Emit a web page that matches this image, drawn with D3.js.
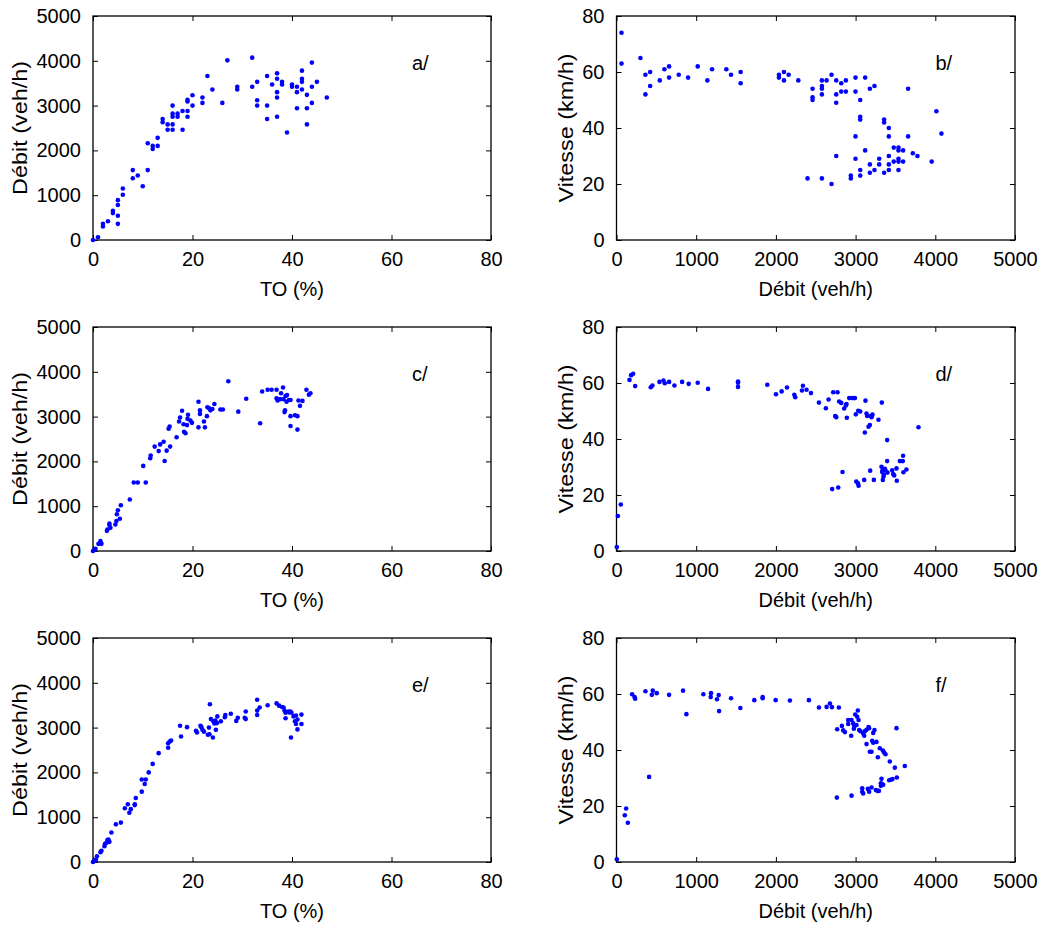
<!DOCTYPE html>
<html>
<head>
<meta charset="utf-8">
<script src="https://cdn.jsdelivr.net/npm/d3@7/dist/d3.min.js"></script>
<style>
  html, body { margin: 0; padding: 0; background: #ffffff; }
  svg { display: block; }
  text { font-family: "Liberation Sans", Arial, Helvetica, sans-serif; fill: #000; }
</style>
</head>
<body>
<svg id="chart" width="1041" height="927"></svg>
<script>
// ---------- Data ----------
const toTicks = [0, 20, 40, 60, 80];
const debitTicks = [0, 1000, 2000, 3000, 4000, 5000];
const vitesseTicks = [0, 20, 40, 60, 80];

const panelLabels = ["a/", "b/", "c/", "d/", "e/", "f/"];
const xTitleTO = "TO (%)";
const xTitleDebit = "Débit (veh/h)";
const yTitleDebit = "Débit (veh/h)";
const yTitleVitesse = "Vitesse (km/h)";

// a/ : TO (%) vs Débit (veh/h)
const aTO = [0,1,2,2,3,4,4,5,5,5,5,6,6,8,8,9,10,11,11,12,12,13,13,14,14,15,15,16,16,16,16,16,17,17,18,18,19,19,19,19,20,20,22,22,23,24,26,27,29,29,32,32,33,33,33,35,35,35,36,37,37,37,37,37,38,38,39,40,40,41,41,41,42,42,42,42,43,43,43,44,44,44,45,47];
const aQ = [0,60,360,300,420,650,600,890,780,540,360,1150,1010,1560,1380,1440,1200,1560,2160,2100,2030,2280,2100,2700,2630,2580,2460,3000,2820,2750,2580,2460,2820,2750,2880,2460,3130,3090,2880,2750,3230,3000,3180,3060,3660,3360,3060,4010,3420,3360,4070,3420,3530,3120,3000,3660,3000,2700,3470,3720,3600,3300,3180,2750,3530,3470,2400,3470,3420,3420,3300,2940,3780,3600,3530,3360,3240,2940,2580,3960,3420,3060,3530,3180];

// b/ : Débit (veh/h) vs Vitesse (km/h)
const bQ = [63,63,300,363,363,422,422,543,601,660,660,781,898,1019,1140,1199,1378,1437,1558,1558,2038,2038,2101,2101,2160,2281,2460,2460,2460,2577,2577,2577,2577,2636,2698,2757,2757,2757,2820,2820,2878,2878,2999,2999,3058,3120,3179,3237,3659,3058,3058,2999,3358,3358,3417,3417,3659,4014,4077,2757,2999,3120,3179,3179,3058,3058,2940,2940,2698,2577,2397,3237,3296,3296,3358,3417,3417,3417,3479,3479,3538,3538,3538,3538,3538,3596,3596,3718,3776,3955];
const bV = [74,63,65,59,52,60,55,57,61,62,58,59,58,62,57,61,61,59,60,56,59,58,60,57,59,57,54,51,50,57,55,54,52,57,59,57,52,49,56,53,57,53,58,53,50,58,54,55,54,44,43,37,43,42,40,37,37,46,38,30,29,32,27,24,25,23,23,22,20,22,22,25,29,27,24,30,27,25,33,28,33,32,29,28,25,32,28,31,30,28];

// c/ : TO (%) vs Débit (veh/h)
const cTO = [0,0.3,0.5,1.1,1.5,1.7,2.8,2.9,3.3,3.3,3.5,4.5,4.7,4.8,5.0,5.4,5.6,7.4,8.2,9.0,10.1,10.6,11.5,11.6,12.4,13.2,13.5,14.2,14.4,14.8,15.2,15.4,15.5,16.8,17.3,17.5,17.9,18.2,18.6,18.3,18.9,19.0,19.1,19.6,19.9,21.2,21.2,21.5,21.5,22.3,22.5,22.9,23.0,23.3,23.6,24.0,24.4,25.6,26.1,27.2,29.2,30.8,33.6,34.0,35.1,35.9,36.9,36.9,37.1,37.6,37.8,38.2,38.3,38.6,38.5,38.7,38.9,39.0,39.4,39.7,39.7,39.7,40.6,41.1,41.1,41.3,41.6,42.1,42.9,43.4,43.7];
const cQ = [0,30,50,160,220,160,450,480,580,610,520,590,670,820,910,720,1020,1150,1530,1530,1900,1530,2070,2130,2330,2230,2380,2440,2010,2240,2730,2780,2330,2540,2890,2980,3130,2830,2630,2660,2810,2950,3040,2910,2860,3330,2760,3140,3060,2890,2760,3010,3210,3190,3140,3170,3280,3160,3160,3790,3110,3400,2850,3560,3600,3600,3600,3410,3360,3390,3520,3650,3390,3140,3100,3460,3330,3480,3370,3370,3010,2790,3030,3010,2710,3360,3240,3350,3600,3490,3520];

// d/ : Débit (veh/h) vs Vitesse (km/h)
const dQ = [4,17,54,163,184,209,234,430,451,539,589,606,660,727,823,906,1019,1149,1525,1525,1525,1892,2001,2072,2139,2231,2243,2327,2339,2385,2440,2540,2627,2661,2719,2773,2744,2757,2794,2820,2836,2857,2878,2886,2890,2920,2962,2991,3003,3008,3029,3037,3033,3058,3108,3116,3124,3137,3145,3162,3179,3183,3191,3212,3200,3229,3287,3329,3325,3333,3338,3342,3350,3354,3367,3375,3396,3396,3400,3459,3471,3484,3513,3517,3555,3592,3596,3600,3638,3789,2706,2782];
const dV = [1.4,12.5,16.6,61.1,62.8,63.3,58.9,58.5,59.1,60.4,60.9,59.9,60.4,59.1,60.4,59.7,60.1,57.9,60.5,60.1,58.6,59.4,56.0,57.0,58.4,55.8,54.9,57.3,59.0,57.6,56.4,53.0,51.0,54.1,56.7,56.7,48.2,47.8,53.4,52.9,28.2,50.9,52.0,52.5,47.6,54.6,54.6,54.6,48.8,24.8,24.2,23.3,50.1,49.8,25.4,42.3,53.7,49.1,48.2,44.4,45.0,28.7,48.2,48.7,47.8,25.4,46.9,53.0,30.1,28.2,28.8,25.4,26.6,27.2,29.4,28.8,39.6,32.1,28.0,28.8,27.5,27.0,29.5,25.1,32.1,32.1,34.0,28.1,29.1,44.2,22.1,22.7];

// e/ : TO (%) vs Débit (veh/h)
const eTO = [0,0.2,0.4,0.6,0.8,1.5,1.7,2.3,2.4,2.7,2.9,3.3,3.1,3.7,4.6,5.6,6.4,7.0,7.3,7.6,8.4,8.4,8.6,9.8,9.8,10.4,10.6,11.2,12.0,13.2,15.1,15.1,15.4,15.7,17.5,17.7,18.9,20.7,20.9,21.6,21.8,22.0,22.3,23.1,23.3,23.4,23.5,23.7,24.1,24.2,24.4,24.6,24.7,24.9,25.0,25.7,26.5,26.6,27.7,28.8,29.1,30.5,30.7,30.7,33.0,33.0,33.0,33.5,35.1,36.9,37.4,38.0,38.3,38.5,38.7,38.7,39.3,39.4,39.7,39.9,39.8,40.3,40.8,40.6,40.8,41.1,41.1,41.9,41.9];
const eQ = [0,20,40,50,130,220,250,350,400,430,490,450,500,660,840,880,1200,1290,1100,1180,1290,1270,1430,1570,1840,1740,1840,2000,2190,2430,2550,2650,2690,2710,3040,2800,3010,2930,2890,3040,3010,2950,2910,2840,3000,2850,3520,3190,2780,3140,3090,3160,2950,3100,3250,3140,3230,3280,3310,3150,3220,3220,3190,3360,3620,3380,3280,3450,3500,3540,3490,3460,3450,3380,3330,3210,3360,3340,3360,3330,2780,3250,3270,3140,3080,3180,2960,3290,3080];

// f/ : Débit (veh/h) vs Vitesse (km/h)
const fQ = [4,104,121,142,196,226,234,363,443,455,505,409,660,835,877,1090,1186,1182,1261,1282,1287,1437,1554,1729,1834,1834,1997,2176,2414,2540,2636,2678,2703,2790,2765,2769,2828,2845,2866,2907,2907,2945,2949,2949,2970,2978,2982,2995,3012,3020,3028,3037,3045,3062,3083,3083,3095,3095,3108,3116,3137,3162,3170,3137,3154,3170,3179,3200,3200,3208,3221,3221,3237,3262,3254,3275,3292,3279,3304,3317,3317,3325,3333,3346,3342,3358,3375,3429,3421,3442,3463,3492,3513,3517,3617];
const fV = [1.0,16.7,19.1,14.0,59.9,58.9,58.3,61.0,59.7,61.2,60.3,30.4,59.7,61.2,52.8,59.9,60.3,58.9,58.1,59.6,53.9,58.5,55.0,57.8,58.9,58.5,57.8,57.7,57.8,55.2,55.4,56.6,55.3,55.2,23.0,47.4,48.6,47.0,46.4,49.3,50.7,45.1,23.7,50.7,49.5,47.6,48.6,52.7,48.9,51.9,54.1,50.7,47.1,46.7,26.3,25.1,24.5,45.9,45.1,46.7,47.2,48.2,47.8,42.1,26.1,25.1,39.4,39.4,26.6,43.3,42.6,46.1,47.1,42.9,25.7,25.4,25.4,37.4,40.6,28.1,27.2,29.7,27.8,27.6,39.8,39.1,38.5,35.9,29.2,29.4,29.6,33.7,47.8,30.2,34.3];

// ---------- Layout ----------
const svg = d3.select("#chart");
svg.append("rect").attr("width", 1041).attr("height", 927).attr("fill", "#fff");

const colLeft = [93, 616.5];
const plotW = [398, 398.5];
const rowTop = [16, 327, 638];
const plotH = 224;
const FONT = 20;
const TICK = 5;

const panels = [
  {label: panelLabels[0], xs: aTO, ys: aQ, type: "TO"},
  {label: panelLabels[1], xs: bQ, ys: bV, type: "QV"},
  {label: panelLabels[2], xs: cTO, ys: cQ, type: "TO"},
  {label: panelLabels[3], xs: dQ, ys: dV, type: "QV"},
  {label: panelLabels[4], xs: eTO, ys: eQ, type: "TO"},
  {label: panelLabels[5], xs: fQ, ys: fV, type: "QV"}
];

panels.forEach((p, i) => {
  const col = i % 2, row = Math.floor(i / 2);
  const left = colLeft[col], top = rowTop[row], w = plotW[col], h = plotH;
  const isTO = p.type === "TO";
  const xTicks = isTO ? toTicks : debitTicks;
  const yTicks = isTO ? debitTicks : vitesseTicks;
  const x = d3.scaleLinear().domain([xTicks[0], xTicks[xTicks.length - 1]]).range([0, w]);
  const y = d3.scaleLinear().domain([yTicks[0], yTicks[yTicks.length - 1]]).range([h, 0]);

  const g = svg.append("g").attr("transform", `translate(${left},${top})`);

  const styleAxis = sel => {
    sel.select(".domain").remove();
    sel.selectAll(".tick line").attr("stroke", "#000").attr("stroke-width", 1);
    sel.selectAll("text").style("font-size", FONT + "px")
      .style("font-family", '"Liberation Sans", Arial, sans-serif').attr("fill", "#000");
  };
  const xb = g.append("g").attr("transform", `translate(0,${h})`)
    .call(d3.axisBottom(x).tickValues(xTicks).tickFormat(d3.format("d")).tickSizeInner(-TICK).tickSizeOuter(0).tickPadding(12));
  styleAxis(xb);
  xb.selectAll("text").attr("dy", "0.71em");
  const xt = g.append("g")
    .call(d3.axisTop(x).tickValues(xTicks).tickFormat("").tickSizeInner(-TICK).tickSizeOuter(0));
  styleAxis(xt);
  const yl = g.append("g")
    .call(d3.axisLeft(y).tickValues(yTicks).tickFormat(d3.format("d")).tickSizeInner(-TICK).tickSizeOuter(0).tickPadding(12));
  styleAxis(yl);
  const yr = g.append("g").attr("transform", `translate(${w},0)`)
    .call(d3.axisRight(y).tickValues(yTicks).tickFormat("").tickSizeInner(-TICK).tickSizeOuter(0));
  styleAxis(yr);

  g.append("rect").attr("x", 0).attr("y", 0).attr("width", w).attr("height", h)
    .attr("fill", "none").attr("stroke", "#000").attr("stroke-width", 1.3);

  const pts = p.xs.map((v, k) => [v, p.ys[k]]);
  g.append("g").selectAll("circle").data(pts).join("circle")
    .attr("cx", d => x(d[0])).attr("cy", d => y(d[1])).attr("r", 2.3)
    .attr("fill", "#0000ff");

  g.append("text").attr("x", 319).attr("y", 54)
    .style("font-size", FONT + "px").text(p.label);

  g.append("text").attr("x", w / 2).attr("y", h + 55.5).attr("text-anchor", "middle")
    .style("font-size", FONT + "px").text(isTO ? xTitleTO : xTitleDebit);
  const yOff = isTO ? -66 : -43.5;
  g.append("text").attr("transform", `translate(${yOff},${h / 2}) rotate(-90) scale(1.17,1)`)
    .attr("text-anchor", "middle").style("font-size", FONT + "px")
    .text(isTO ? yTitleDebit : yTitleVitesse);
});
</script>
</body>
</html>
